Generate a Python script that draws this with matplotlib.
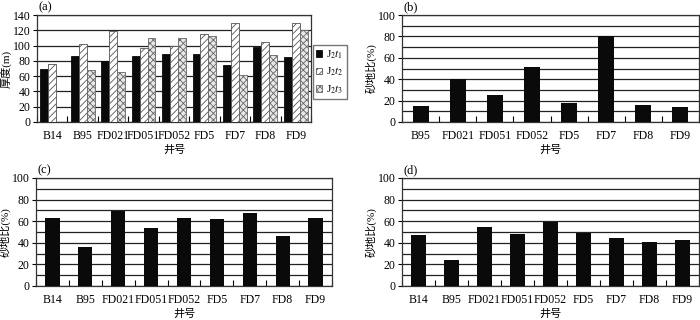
import matplotlib
matplotlib.use("Agg")
import matplotlib.pyplot as plt
import numpy as np

plt.rcParams['font.family'] = ['Liberation Serif', 'Noto Sans CJK SC', 'DejaVu Sans']
plt.rcParams['mathtext.fontset'] = 'stix'
plt.rcParams['hatch.linewidth'] = 0.6

# ---- data ----
wells_a = ["B14", "B95", "FD021", "FD051", "FD052", "FD5", "FD7", "FD8", "FD9"]
thick_t1 = [69, 87, 80, 87, 89, 89, 74, 98, 85]
thick_t2 = [76, 102, 119, 97, 99, 115, 129, 105, 130]
thick_t3 = [0, 68, 66, 110, 110, 112, 61, 88, 120]
series_labels = [r"J$_2$$\mathit{t}_1$", r"J$_2$$\mathit{t}_2$", r"J$_2$$\mathit{t}_3$"]

wells_b = ["B95", "FD021", "FD051", "FD052", "FD5", "FD7", "FD8", "FD9"]
ratio_b = [15, 40, 25, 51, 18, 80, 16, 14]

wells_c = ["B14", "B95", "FD021", "FD051", "FD052", "FD5", "FD7", "FD8", "FD9"]
ratio_c = [63, 36, 69, 54, 63, 62, 68, 46, 63]

wells_d = ["B14", "B95", "FD021", "FD051", "FD052", "FD5", "FD7", "FD8", "FD9"]
ratio_d = [47, 24, 55, 48, 59, 49, 44, 41, 43]

W, H = 700, 320
fig = plt.figure(figsize=(W / 100, H / 100), dpi=100)


def rect(l, t, r, b):
    return [l / W, 1 - b / H, (r - l) / W, (b - t) / H]


TICK_FS = 8.5
LABEL_FS = 8


def style_axes(ax, n, ymax, ystep, gridstep, ylabel, panel, ylpad=1):
    ax.set_xlim(-0.5, n - 0.5)
    ax.set_ylim(0, ymax)
    ax.set_yticks(np.arange(0, ymax + 1, ystep))
    ax.set_yticks(np.arange(0, ymax + 1, gridstep), minor=True)
    ax.yaxis.grid(True, which='both', color='#222222', linewidth=0.9)
    ax.set_axisbelow(True)
    ax.tick_params(axis='y', which='major', direction='out', length=3, width=0.8,
                   labelsize=TICK_FS, pad=1.5)
    ax.tick_params(axis='y', which='minor', length=0)
    # x: labels at centers, boundary ticks inward
    ax.set_xticks(np.arange(n))
    ax.tick_params(axis='x', which='major', length=0, labelsize=TICK_FS, pad=6)
    ax.set_xticks(np.arange(n + 1) - 0.5, minor=True)
    ax.tick_params(axis='x', which='minor', direction='in', length=4, width=0.8)
    for s in ax.spines.values():
        s.set_color('#333333')
        s.set_linewidth(0.9)
    ax.set_xlabel("井号", fontsize=LABEL_FS, labelpad=1.5)
    ax.set_ylabel(ylabel, fontsize=LABEL_FS, labelpad=ylpad)
    ax.annotate(panel, xy=(0, 1), xycoords='axes fraction', xytext=(1, 1),
                textcoords='offset points', fontsize=9, ha='left', va='bottom')


# ---- (a) ----
ax = fig.add_axes(rect(37, 15, 311, 122))
x = np.arange(len(wells_a))
bw = 0.26
ax.bar(x - bw, thick_t1, bw, color='#0a0a0a', edgecolor='#0a0a0a', linewidth=0.6,
       label=series_labels[0], zorder=3)
ax.bar(x, thick_t2, bw, color='white', edgecolor='#555555', hatch='/////',
       linewidth=0.6, label=series_labels[1], zorder=3)
ax.bar(x + bw, thick_t3, bw, color='#e8e8e8', edgecolor='#666666', hatch='xxxxx',
       linewidth=0.6, label=series_labels[2], zorder=3)
ax.set_xticklabels(wells_a)
style_axes(ax, len(wells_a), 140, 20, 20, "厚度(m)", "(a)")
ax.legend(loc='upper left', bbox_to_anchor=(1.007, 0.72), fontsize=8,
          frameon=True, fancybox=False, edgecolor='#555555', handlelength=0.55,
          handleheight=0.55, handletextpad=0.3, borderpad=0.3, labelspacing=0.45,
          borderaxespad=0)

# ---- (b) ----
ax = fig.add_axes(rect(402, 15, 699, 122))
ax.bar(np.arange(len(wells_b)), ratio_b, 0.43, color='#0a0a0a', zorder=3)
ax.set_xticklabels(wells_b)
style_axes(ax, len(wells_b), 100, 20, 10, "砂地比(%)", "(b)")

# ---- (c) ----
ax = fig.add_axes(rect(36, 178, 332, 286))
ax.bar(np.arange(len(wells_c)), ratio_c, 0.43, color='#0a0a0a', zorder=3)
ax.set_xticklabels(wells_c)
style_axes(ax, len(wells_c), 100, 20, 10, "砂地比(%)", "(c)", ylpad=0.5)

# ---- (d) ----
ax = fig.add_axes(rect(402, 178, 699, 286))
ax.bar(np.arange(len(wells_d)), ratio_d, 0.43, color='#0a0a0a', zorder=3)
ax.set_xticklabels(wells_d)
style_axes(ax, len(wells_d), 100, 20, 10, "砂地比(%)", "(d)")

fig.savefig("out.png", dpi=100)
